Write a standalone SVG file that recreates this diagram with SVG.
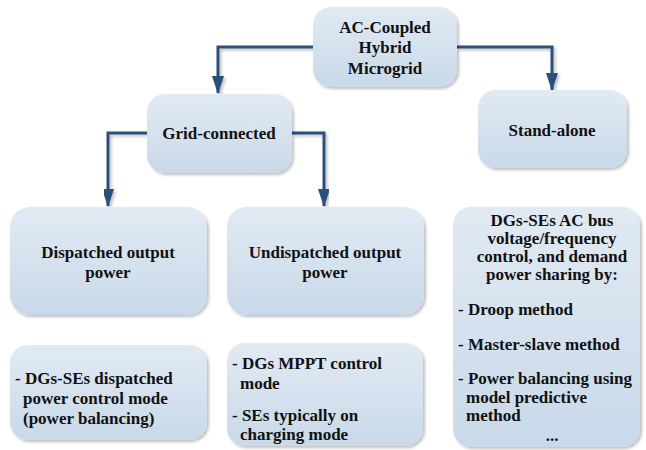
<svg xmlns="http://www.w3.org/2000/svg" width="646" height="450" viewBox="0 0 646 450">
  <defs>
    <linearGradient id="boxFill" x1="0" y1="0" x2="0" y2="1">
      <stop offset="0" stop-color="#e1eaf3"/>
      <stop offset="1" stop-color="#c9d9e9"/>
    </linearGradient>
    <filter id="shadow" x="-10%" y="-10%" width="125%" height="125%">
      <feGaussianBlur in="SourceAlpha" stdDeviation="1.5"/>
      <feOffset dx="2" dy="2" result="b"/>
      <feComponentTransfer><feFuncA type="linear" slope="0.25"/></feComponentTransfer>
      <feMerge><feMergeNode/><feMergeNode in="SourceGraphic"/></feMerge>
    </filter>
    <marker id="arrow" viewBox="0 0 18 12" refX="17" refY="6" markerWidth="18" markerHeight="12" markerUnits="userSpaceOnUse" orient="auto">
      <path d="M0,0 L18,6 L0,12 Z" fill="#2b5079"/>
    </marker>
  </defs>
  <style>
    .box { fill: url(#boxFill); filter: url(#shadow); }
    .c { text-anchor: middle; }
    .conn { fill: none; stroke: #2b5079; stroke-width: 3; marker-end: url(#arrow); filter: url(#shadow); }
  </style>

  <g id="connectors">
    <path class="conn" d="M313,47 H218 V93"/>
    <path class="conn" d="M457,47 H552 V90"/>
    <path class="conn" d="M147,133 H108 V206"/>
    <path class="conn" d="M292,133 H324 V206"/>
    <path class="conn" d="M552,168 V207"/>
    <path class="conn" d="M108,315 V344"/>
    <path class="conn" d="M324,315 V343"/>
  </g>

  <g font-family="'Liberation Serif', 'Times New Roman', Times, serif" font-weight="bold" font-size="17" fill="#111">
    <g id="root">
      <rect class="box" x="313" y="7" width="144" height="80" rx="18"/>
      <text class="c" x="385" y="33">AC-Coupled</text>
      <text class="c" x="385" y="53">Hybrid</text>
      <text class="c" x="385" y="74">Microgrid</text>
    </g>

    <g id="grid-connected">
      <rect class="box" x="147" y="94" width="145" height="79" rx="18"/>
      <text class="c" x="219" y="139">Grid-connected</text>
    </g>

    <g id="stand-alone">
      <rect class="box" x="478" y="90" width="149" height="78" rx="18"/>
      <text class="c" x="552" y="136">Stand-alone</text>
    </g>

    <g id="dispatched">
      <rect class="box" x="10" y="207" width="197" height="108" rx="20"/>
      <text class="c" x="108" y="258">Dispatched output</text>
      <text class="c" x="108" y="278">power</text>
    </g>

    <g id="undispatched">
      <rect class="box" x="227" y="207" width="197" height="108" rx="20"/>
      <text class="c" x="325" y="258">Undispatched output</text>
      <text class="c" x="325" y="278">power</text>
    </g>

    <g id="dispatched-mode">
      <rect class="box" x="10" y="345" width="197" height="95" rx="18"/>
      <text x="15" y="384">- DGs-SEs dispatched</text>
      <text x="23" y="404">power control mode</text>
      <text x="23" y="424">(power balancing)</text>
    </g>

    <g id="undispatched-mode">
      <rect class="box" x="227" y="343" width="196" height="103" rx="18"/>
      <text x="232" y="369">- DGs MPPT control</text>
      <text x="240" y="389">mode</text>
      <text x="232" y="421">- SEs typically on</text>
      <text x="240" y="440">charging mode</text>
    </g>

    <g id="stand-alone-control">
      <rect class="box" x="453" y="207" width="187" height="240" rx="18"/>
      <text class="c" x="552" y="226">DGs-SEs AC bus</text>
      <text class="c" x="552" y="244">voltage/frequency</text>
      <text class="c" x="552" y="262">control, and demand</text>
      <text class="c" x="552" y="280">power sharing by:</text>
      <text x="458" y="315">- Droop method</text>
      <text x="458" y="350">- Master-slave method</text>
      <text x="458" y="384">- Power balancing using</text>
      <text x="466" y="403">model predictive</text>
      <text x="466" y="421">method</text>
      <text class="c" x="552" y="441">...</text>
    </g>
  </g>
</svg>
